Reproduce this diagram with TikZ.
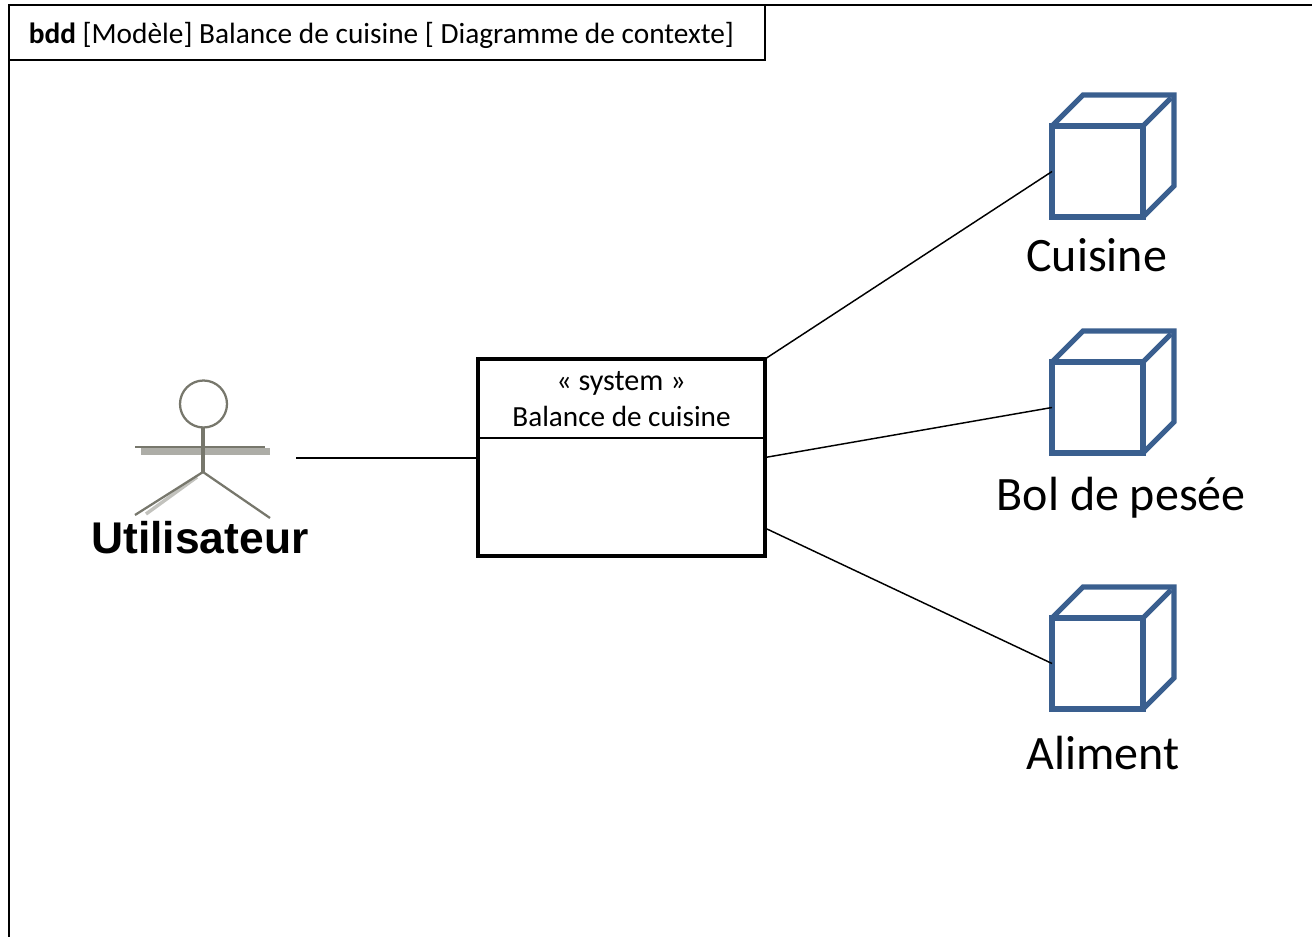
\documentclass[tikz,border=0pt]{standalone}
\usepackage{fontspec}
\setmainfont{Carlito}
\newfontfamily\actorfont{Liberation Sans}
\usepackage{xcolor}
\usetikzlibrary{arrows.meta}
\definecolor{cubeblue}{HTML}{3A5F8F}
\definecolor{actorgray}{HTML}{77776C}
\tikzstyle{link}=[line width=1.1pt,black]
\tikzstyle{framebox}=[draw,line width=1.1pt,inner sep=0pt,outer sep=0pt,anchor=north west,minimum width=567pt,minimum height=41.25pt]
\tikzstyle{sysbox}=[draw,line width=3pt,inner sep=0pt,outer sep=0pt,anchor=north west,minimum width=215.25pt,minimum height=147.75pt]
\tikzstyle{cube}=[draw=cubeblue,line width=3.9pt,inner sep=0pt,outer sep=0pt,minimum width=68.25pt,minimum height=68.25pt,anchor=north west]
\tikzstyle{cubeedge}=[draw=cubeblue,line width=3.9pt,line join=miter]
\tikzstyle{cubelabel}=[inner sep=0pt,font=\fontsize{36}{40}\selectfont,anchor=base west]
\tikzstyle{syslabel}=[inner sep=0pt,font=\fontsize{21.9}{26}\selectfont,anchor=base]
\tikzstyle{actorline}=[draw=actorgray,line width=1.7pt]
\tikzstyle{actorblur}=[draw=actorgray!45,line width=2.6pt]
\newcommand\cubetop[1]{%
	\draw[cubeedge] (#1.north west) -- ++(31,-31) -- ++(91,0) -- ++(0,91) -- (#1.south east);
	\draw[cubeedge] (#1.north east) -- ++(28,-28);
}
\begin{document}
\begin{tikzpicture}[x=.75pt,y=-.75pt]
	\useasboundingbox (0,0) rectangle (1312,937);
	% frame
	\draw[line width=1.1pt] (9,937) -- (9,5) -- (1312,5);
	\node[framebox] (title) at (9,5) {};
	\node[inner sep=0pt,anchor=base west,font=\fontsize{22}{26}\selectfont] (titletext) at (28.5,44) {\textbf{bdd} [Modèle] Balance de cuisine [ Diagramme de contexte]};
	% actor
	\draw[draw=actorgray,line width=1.7pt] (203.5,404) circle (23.5);
	\fill[actorgray!60] (141,448) rectangle (270,455);
	\coordinate (neck) at (203,428);
	\coordinate (hip) at (203,472);
	\draw[actorblur] (hip) ++(-6,5) -- (146,514);
	\draw[actorline,line width=2.4pt] (neck) -- (hip);
	\draw[actorline] (135,447) -- (265,447);
	\draw[actorline] (hip) -- (135,515);
	\draw[actorline] (hip) -- (270,518);
	\node[inner sep=0pt,anchor=base,font=\actorfont\bfseries\fontsize{33.3}{36}\selectfont] (user) at (200,553) {Utilisateur};
	% system
	\node[sysbox] (sys) at (478,359) {};
	\node[syslabel,font=\fontsize{22.6}{26}\selectfont] (stereo) at (621,391) {« system »};
	\node[syslabel] (sysname) at (621.5,426.5) {Balance de cuisine};
	\coordinate (sepl) at (478,438);
	\coordinate (sepr) at (765,438);
	\draw[link] (sepl) -- (sepr);
	% cubes
	\node[cube] (cuisine) at (1052,126) {};
	\cubetop{cuisine}
	\node[cube] (bol) at (1052,362) {};
	\cubetop{bol}
	\node[cube] (aliment) at (1052,618) {};
	\cubetop{aliment}
	\node[cubelabel] (cuisinetext) at (1026,272) {Cuisine};
	\node[cubelabel] (boltext) at (996.5,510) {Bol de pesée};
	\node[cubelabel] (alimenttext) at (1026,769) {Aliment};
	% links
	\coordinate (userend) at (296,458);
	\coordinate (sysout) at (767,529);
	\draw[link] (userend) -- (userend -| sys.west);
	\draw[link] (sys.north east) -- (cuisine.west);
	\draw[link] (sys.east) -- (bol.west);
	\draw[link] (sysout) -- (aliment.west);
\end{tikzpicture}
\end{document}
